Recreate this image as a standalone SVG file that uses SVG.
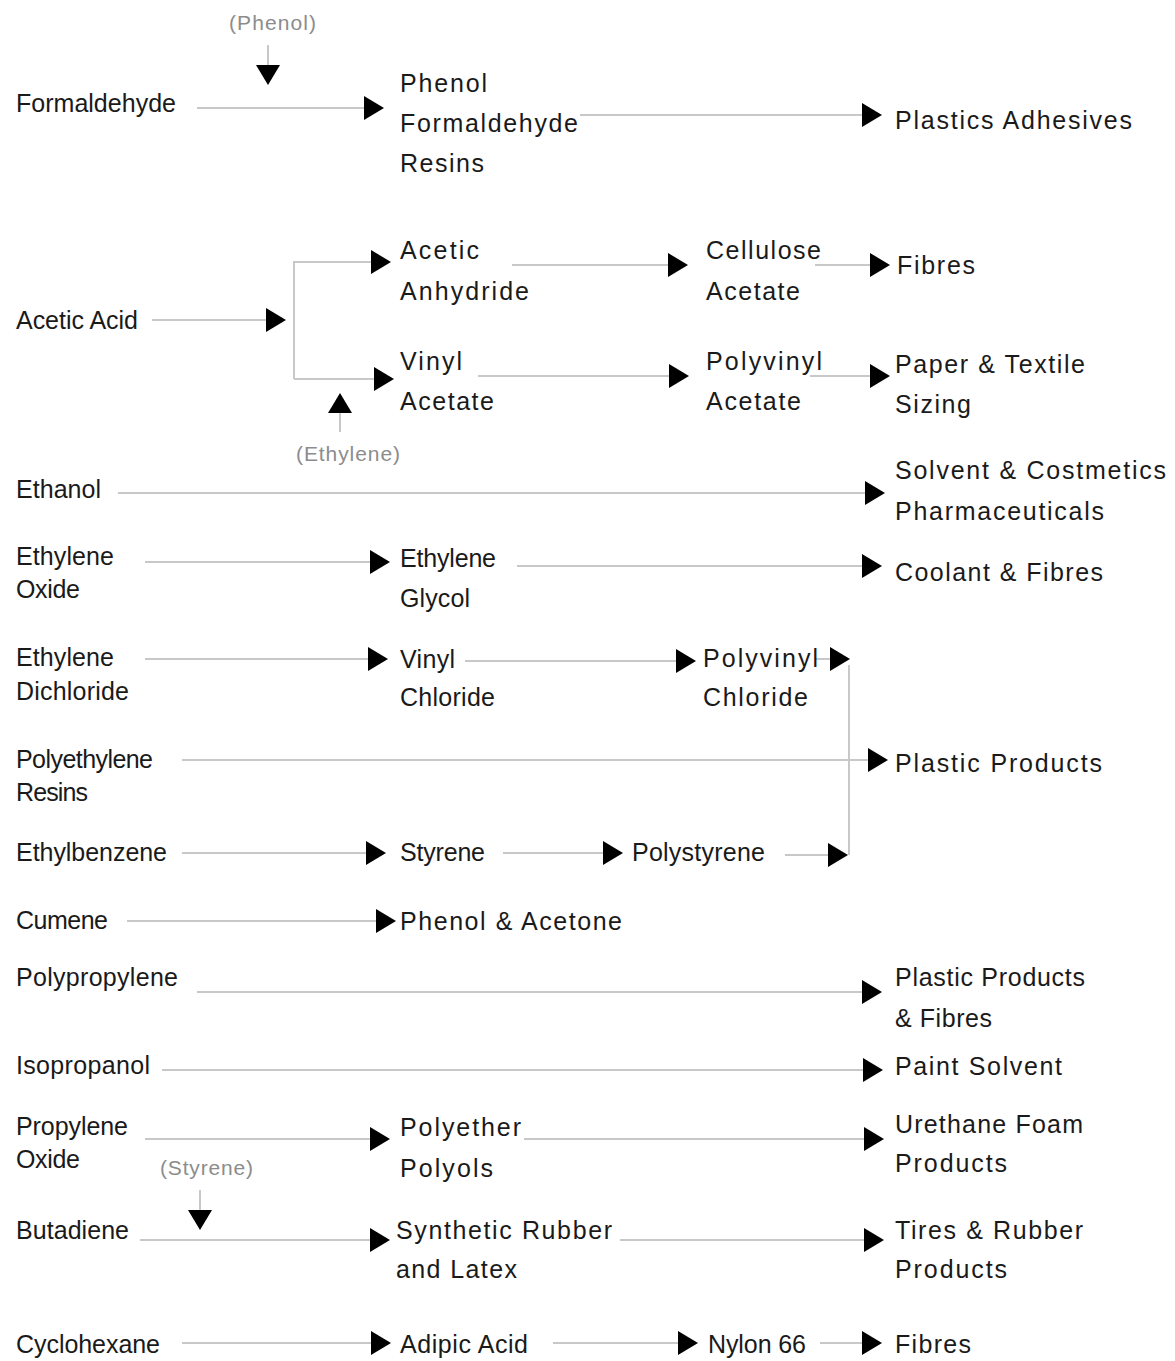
<svg xmlns="http://www.w3.org/2000/svg" width="1175" height="1361" viewBox="0 0 1175 1361">
<style>
.c{stroke:#c8c8c8;stroke-width:2;fill:none;marker-end:url(#ah)}
.p{stroke:#c8c8c8;stroke-width:2;fill:none}
text{font-family:"Liberation Sans",Arial,sans-serif;font-size:25px;fill:#1a1a1a}
.g{font-size:21px;fill:#8c8c8c}
</style>
<defs>
<marker id="ah" markerUnits="userSpaceOnUse" markerWidth="20" markerHeight="24" refX="0" refY="12" orient="auto" overflow="visible"><path d="M0,0 L20,12 L0,24 Z" fill="#000"/></marker>
</defs>
<rect width="1175" height="1361" fill="#fff"/>
<g id="connectors">
<path class="c" d="M268,45 V65"/>
<path class="c" d="M197,108 H364"/>
<path class="c" d="M580,115 H862"/>
<path class="c" d="M152,320 H266"/>
<path class="c" d="M294,379 V262 H371"/>
<path class="c" d="M294,379 H374"/>
<path class="c" d="M340,432 V413"/>
<path class="c" d="M512,265 H668"/>
<path class="c" d="M815,265 H870"/>
<path class="c" d="M478,376 H669"/>
<path class="c" d="M810,376 H870"/>
<path class="c" d="M118,493 H865"/>
<path class="c" d="M145,562 H370"/>
<path class="c" d="M517,566 H862"/>
<path class="c" d="M145,659 H368"/>
<path class="c" d="M465,661 H676"/>
<path class="c" d="M815,659 H830"/>
<path class="p" d="M849,665 V855"/>
<path class="c" d="M182,760 H868"/>
<path class="c" d="M182,853 H366"/>
<path class="c" d="M503,853 H603"/>
<path class="c" d="M785,855 H828"/>
<path class="c" d="M127,921 H376"/>
<path class="c" d="M197,992 H862"/>
<path class="c" d="M162,1070 H863"/>
<path class="c" d="M145,1139 H370"/>
<path class="c" d="M524,1139 H864"/>
<path class="c" d="M200,1190 V1210"/>
<path class="c" d="M140,1240 H370"/>
<path class="c" d="M620,1240 H864"/>
<path class="c" d="M182,1343 H371"/>
<path class="c" d="M553,1343 H678"/>
<path class="c" d="M820,1343 H862"/>
</g>
<g id="phenol-in"><text class="g" x="229" y="30" textLength="87">(Phenol)</text></g>
<g id="ethylene-in"><text class="g" x="296" y="461" textLength="104">(Ethylene)</text></g>
<g id="styrene-in"><text class="g" x="160" y="1175" textLength="93">(Styrene)</text></g>
<g id="formaldehyde"><text x="16" y="112" textLength="160" lengthAdjust="spacingAndGlyphs">Formaldehyde</text></g>
<g id="pf-resins"><text x="400" y="92" textLength="87">Phenol</text><text x="400" y="132" textLength="178">Formaldehyde</text><text x="400" y="172" textLength="84">Resins</text></g>
<g id="plastics-adhesives"><text x="895" y="129" textLength="237">Plastics Adhesives</text></g>
<g id="acetic-acid"><text x="16" y="329" textLength="122">Acetic Acid</text></g>
<g id="acetic-anhydride"><text x="400" y="259" textLength="79">Acetic</text><text x="400" y="300" textLength="129">Anhydride</text></g>
<g id="cellulose-acetate"><text x="706" y="259" textLength="115">Cellulose</text><text x="706" y="300" textLength="94">Acetate</text></g>
<g id="fibres1"><text x="897" y="274" textLength="78">Fibres</text></g>
<g id="vinyl-acetate"><text x="400" y="370" textLength="62">Vinyl</text><text x="400" y="410" textLength="94">Acetate</text></g>
<g id="polyvinyl-acetate"><text x="706" y="370" textLength="116">Polyvinyl</text><text x="706" y="410" textLength="95">Acetate</text></g>
<g id="paper-textile"><text x="895" y="373" textLength="190">Paper &amp; Textile</text><text x="895" y="413" textLength="76">Sizing</text></g>
<g id="ethanol"><text x="16" y="498" textLength="85">Ethanol</text></g>
<g id="solvent"><text x="895" y="479" textLength="271">Solvent &amp; Costmetics</text><text x="895" y="520" textLength="209">Pharmaceuticals</text></g>
<g id="ethylene-oxide"><text x="16" y="565" textLength="98">Ethylene</text><text x="16" y="598" textLength="64">Oxide</text></g>
<g id="ethylene-glycol"><text x="400" y="567" textLength="96">Ethylene</text><text x="400" y="607" textLength="70">Glycol</text></g>
<g id="coolant"><text x="895" y="581" textLength="208">Coolant &amp; Fibres</text></g>
<g id="ethylene-dichloride"><text x="16" y="666" textLength="98">Ethylene</text><text x="16" y="700" textLength="113">Dichloride</text></g>
<g id="vinyl-chloride"><text x="400" y="668" textLength="55">Vinyl</text><text x="400" y="706" textLength="95">Chloride</text></g>
<g id="pvc"><text x="703" y="667" textLength="115">Polyvinyl</text><text x="703" y="706" textLength="105">Chloride</text></g>
<g id="polyethylene"><text x="16" y="768" textLength="137">Polyethylene</text><text x="16" y="801" textLength="72">Resins</text></g>
<g id="plastic-products"><text x="895" y="772" textLength="207">Plastic Products</text></g>
<g id="ethylbenzene"><text x="16" y="861" textLength="151">Ethylbenzene</text></g>
<g id="styrene"><text x="400" y="861" textLength="85">Styrene</text></g>
<g id="polystyrene"><text x="632" y="861" textLength="133">Polystyrene</text></g>
<g id="cumene"><text x="16" y="929" textLength="92">Cumene</text></g>
<g id="phenol-acetone"><text x="400" y="930" textLength="222">Phenol &amp; Acetone</text></g>
<g id="polypropylene"><text x="16" y="986" textLength="162">Polypropylene</text></g>
<g id="plastic-fibres"><text x="895" y="986" textLength="190">Plastic Products</text><text x="895" y="1027" textLength="97">&amp; Fibres</text></g>
<g id="isopropanol"><text x="16" y="1074" textLength="134">Isopropanol</text></g>
<g id="paint-solvent"><text x="895" y="1075" textLength="167">Paint Solvent</text></g>
<g id="propylene-oxide"><text x="16" y="1135" textLength="112">Propylene</text><text x="16" y="1168" textLength="64">Oxide</text></g>
<g id="polyether-polyols"><text x="400" y="1136" textLength="121">Polyether</text><text x="400" y="1177" textLength="93">Polyols</text></g>
<g id="urethane"><text x="895" y="1133" textLength="188">Urethane Foam</text><text x="895" y="1172" textLength="112">Products</text></g>
<g id="butadiene"><text x="16" y="1239" textLength="113">Butadiene</text></g>
<g id="synthetic-rubber"><text x="396" y="1239" textLength="216">Synthetic Rubber</text><text x="396" y="1278" textLength="121">and Latex</text></g>
<g id="tires"><text x="895" y="1239" textLength="188">Tires &amp; Rubber</text><text x="895" y="1278" textLength="112">Products</text></g>
<g id="cyclohexane"><text x="16" y="1353" textLength="144">Cyclohexane</text></g>
<g id="adipic-acid"><text x="400" y="1353" textLength="128">Adipic Acid</text></g>
<g id="nylon66"><text x="708" y="1353" textLength="98">Nylon 66</text></g>
<g id="fibres2"><text x="895" y="1353" textLength="76">Fibres</text></g>
</svg>
